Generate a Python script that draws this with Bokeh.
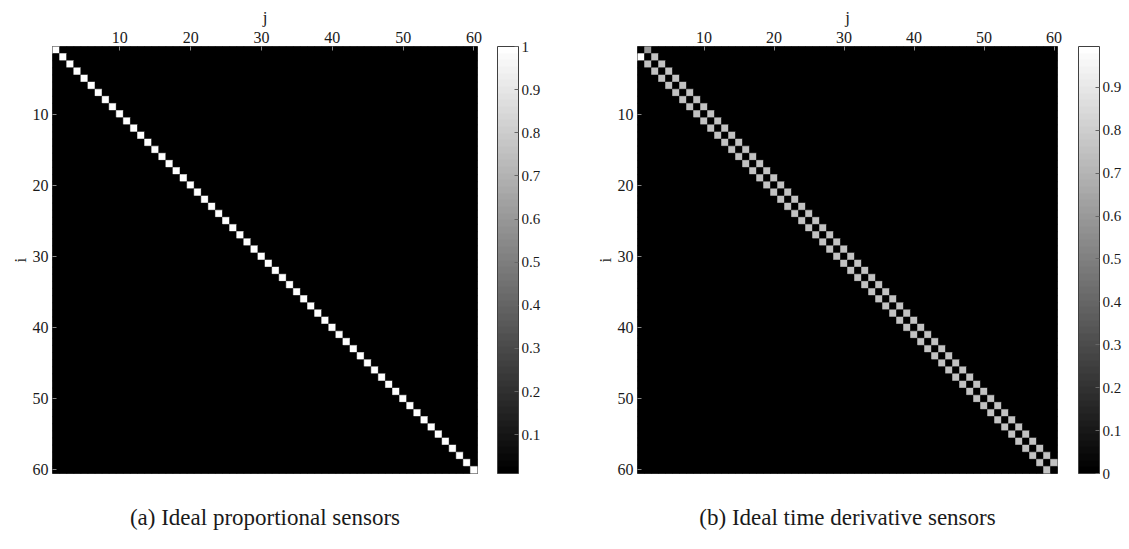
from bokeh.plotting import figure
from bokeh.models import (LinearColorMapper, ColorBar, FixedTicker, Range1d,
                          ColumnDataSource, LinearAxis)
from bokeh.layouts import row
from bokeh.palettes import gray
from bokeh.embed import file_html
from bokeh.resources import INLINE

N = 60
# (a) proportional sensors: diagonal values
diag_a = [1.0] * N
# (b) time-derivative sensors: super- and sub-diagonal values, zero diagonal
upper_b = [0.6] + [0.75] * (N - 2)
lower_b = [1.0] + [0.75] * (N - 2)
tick_labels = [10, 20, 30, 40, 50, 60]
cbar_ticks_a = [0.1, 0.2, 0.3, 0.4, 0.5, 0.6, 0.7, 0.8, 0.9, 1.0]
cbar_ticks_b = [0.0, 0.1, 0.2, 0.3, 0.4, 0.5, 0.6, 0.7, 0.8, 0.9]
range_a = (0.01, 1.0)
range_b = (0.0, 0.995)
captions = ["(a) Ideal proportional sensors", "(b) Ideal time derivative sensors"]

SERIF = "Liberation Serif"
TXT = "#1a1a1a"
EDGE = "#404040"
TICK = "#888888"
H = 540
TOP = 46
FH = 427


def build_matrix(diag=None, upper=None, lower=None):
    ii, jj, vv = [], [], []
    for i in range(1, N + 1):
        for j in range(1, N + 1):
            v = 0.0
            if diag is not None and i == j:
                v = diag[i - 1]
            if upper is not None and j == i + 1:
                v = upper[i - 1]
            if lower is not None and i == j + 1:
                v = lower[j - 1]
            ii.append(i)
            jj.append(j)
            vv.append(v)
    return ColumnDataSource(dict(i=ii, j=jj, v=vv))


def style_axis(ax, ticks):
    ax.ticker = FixedTicker(ticks=ticks)
    ax.major_tick_in = 4
    ax.major_tick_out = 0
    ax.minor_tick_line_color = None
    ax.axis_line_color = None
    ax.major_tick_line_color = TICK
    ax.major_label_text_font = SERIF
    ax.major_label_text_font_size = "16px"
    ax.major_label_text_color = TXT
    ax.axis_label_text_font = SERIF
    ax.axis_label_text_font_size = "17px"
    ax.axis_label_text_font_style = "normal"
    ax.axis_label_text_color = TXT
    ax.major_label_standoff = 4
    ax.axis_label_standoff = 2


def panel(src, rng, cticks, caption, width, bl, br, cb_gap):
    fw = width - bl - br
    p = figure(width=width, height=H,
               x_range=Range1d(0.5, 60.5), y_range=Range1d(60.5, 0.5),
               x_axis_location="above", output_backend="svg",
               toolbar_location=None, min_border_left=bl, min_border_right=br,
               min_border_top=TOP, min_border_bottom=H - TOP - FH)
    mapper = LinearColorMapper(palette=gray(64), low=rng[0], high=rng[1])
    p.rect(x="j", y="i", width=1, height=1, source=src,
           fill_color={"field": "v", "transform": mapper},
           line_color={"field": "v", "transform": mapper}, line_width=0.5)
    p.grid.visible = False
    p.outline_line_color = EDGE
    p.outline_line_width = 1
    p.background_fill_color = "black"
    style_axis(p.xaxis[0], tick_labels)
    style_axis(p.yaxis[0], tick_labels)
    p.yaxis[0].axis_label_standoff = 0
    p.xaxis[0].axis_label = "j"
    p.yaxis[0].axis_label = "i"
    # caption below the matrix, as the label of a bare bottom axis
    bax = LinearAxis()
    style_axis(bax, [])
    bax.major_label_standoff = 0
    bax.axis_label = caption
    bax.axis_label_text_font_size = "23px"
    bax.axis_label_standoff = 31
    p.add_layout(bax, "below")
    cb = ColorBar(color_mapper=mapper, ticker=FixedTicker(ticks=cticks),
                  width=21, height=FH, padding=0, margin=0,
                  location=(fw + cb_gap, 0), bar_line_color=EDGE,
                  major_tick_in=4, major_tick_out=0,
                  major_tick_line_color="#666666", minor_tick_line_color=None,
                  major_label_text_font=SERIF,
                  major_label_text_font_size="15px",
                  major_label_text_color=TXT, label_standoff=3,
                  border_line_color=None, background_fill_color=None)
    p.add_layout(cb, "center")
    return p


src_a = build_matrix(diag=diag_a)
src_b = build_matrix(upper=upper_b, lower=lower_b)
pa = panel(src_a, range_a, cbar_ticks_a, captions[0], 565, 52, 88, 20)
pb = panel(src_b, range_b, cbar_ticks_b, captions[1], 563, 72, 71, 21)
layout = row(pa, pb, spacing=0)
open("out.html", "w").write(file_html(layout, INLINE))
